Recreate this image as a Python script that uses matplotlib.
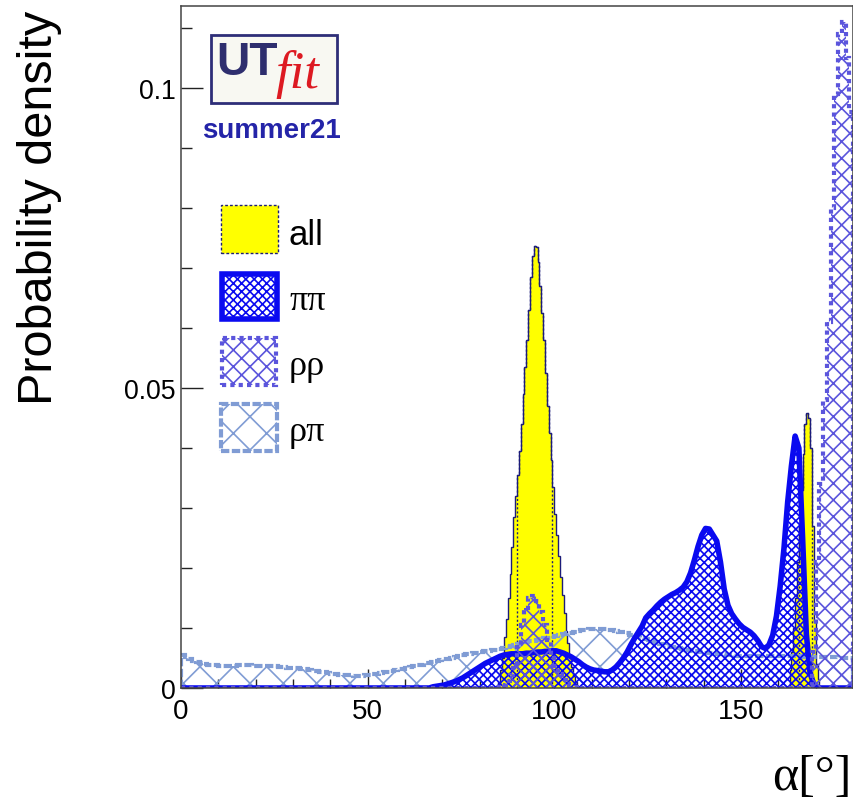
import numpy as np
import matplotlib
matplotlib.use('Agg')
import matplotlib.pyplot as plt
from matplotlib.patches import Rectangle
from matplotlib.ticker import MultipleLocator

plt.rcParams['hatch.linewidth'] = 0.6
plt.rcParams['font.family'] = ['Liberation Sans', 'DejaVu Sans']

W, H, DPI = 854, 804, 200

# ---------------- data ----------------
alpha_start = 0.0
bin_width = 1.0

pipi = [
    0, 0, 0, 0, 0, 0, 0, 0, 0, 0,
    0, 0, 0, 0, 0, 0, 0, 0, 0, 0,
    0, 0, 0, 0, 0, 0, 0, 0, 0, 0,
    0, 0, 0, 0, 0, 0, 0, 0, 0, 0,
    0, 0, 0, 0, 0, 0, 0, 0, 0, 0,
    0, 0, 0, 0, 0, 0, 0, 0, 0, 0,
    0, 0, 0, 0, 0, 0, 0, 0.0002, 0.0003, 0.0004,
    0.0005, 0.0007, 0.0009, 0.0011, 0.0014, 0.0017, 0.0021, 0.0025, 0.0029, 0.0033,
    0.0037, 0.0041, 0.0044, 0.0047, 0.0050, 0.0053, 0.0055, 0.0056, 0.0057, 0.0057,
    0.0057, 0.0057, 0.0058, 0.0058, 0.0059, 0.0060, 0.0060, 0.0061, 0.0061, 0.0062,
    0.0062, 0.0060, 0.0058, 0.0055, 0.0052, 0.0048, 0.0044, 0.0039, 0.0035, 0.0032,
    0.0030, 0.0029, 0.0028, 0.0027, 0.0027, 0.0030, 0.0035, 0.0042, 0.0050, 0.0060,
    0.0072, 0.0083, 0.0093, 0.0103, 0.0117, 0.0124, 0.0130, 0.0137, 0.0143, 0.0148,
    0.0152, 0.0156, 0.0159, 0.0163, 0.0168, 0.0177, 0.0192, 0.0213, 0.0236, 0.0255,
    0.0266, 0.0265, 0.0255, 0.0245, 0.0210, 0.0165, 0.0138, 0.0124, 0.0115, 0.0107,
    0.0101, 0.0097, 0.0093, 0.0087, 0.0079, 0.0069, 0.0066, 0.0072, 0.0088, 0.0120,
    0.0170, 0.0232, 0.0310, 0.0370, 0.0420, 0.0400, 0.0250, 0.0090, 0.0025, 0.0006,
    0, 0, 0, 0, 0, 0, 0, 0, 0, 0,
]

rhorho = [
    0, 0, 0, 0, 0, 0, 0, 0, 0, 0,
    0, 0, 0, 0, 0, 0, 0, 0, 0, 0,
    0, 0, 0, 0, 0, 0, 0, 0, 0, 0,
    0, 0, 0, 0, 0, 0, 0, 0, 0, 0,
    0, 0, 0, 0, 0, 0, 0, 0, 0, 0,
    0, 0, 0, 0, 0, 0, 0, 0, 0, 0,
    0, 0, 0, 0, 0, 0, 0, 0, 0, 0,
    0, 0, 0, 0, 0, 0, 0, 0, 0, 0,
    0, 0, 0, 0, 0.0001, 0.0002, 0.0005, 0.0011, 0.0022, 0.0040,
    0.0068, 0.0105, 0.0133, 0.0150, 0.0153, 0.0145, 0.0126, 0.0105, 0.0080, 0.0055,
    0.0037, 0.0024, 0.0014, 0.0007, 0.0003, 0.0001, 0, 0, 0, 0,
    0, 0, 0, 0, 0, 0, 0, 0, 0, 0,
    0, 0, 0, 0, 0, 0, 0, 0, 0, 0,
    0, 0, 0, 0, 0, 0, 0, 0, 0, 0,
    0, 0, 0, 0, 0, 0, 0, 0, 0, 0,
    0, 0, 0, 0, 0, 0, 0, 0, 0, 0,
    0, 0, 0, 0, 0, 0, 0, 0, 0.0005, 0.0060,
    0.0210, 0.0340, 0.0480, 0.0610, 0.0800, 0.0990, 0.1090, 0.1110, 0.1050, 0.0960,
]

rhopi = [
    0.0055, 0.0051, 0.0048, 0.0045, 0.0043, 0.0041, 0.0040, 0.0039, 0.0038, 0.0038,
    0.0037, 0.0037, 0.0037, 0.0037, 0.0037, 0.0038, 0.0038, 0.0038, 0.0038, 0.0037,
    0.0037, 0.0037, 0.0037, 0.0036, 0.0036, 0.0036, 0.0035, 0.0035, 0.0034, 0.0034,
    0.0033, 0.0033, 0.0032, 0.0031, 0.0030, 0.0029, 0.0028, 0.0027, 0.0026, 0.0025,
    0.0024, 0.0023, 0.0022, 0.0022, 0.0021, 0.0021, 0.0020, 0.0020, 0.0020, 0.0021,
    0.0022, 0.0023, 0.0024, 0.0025, 0.0026, 0.0027, 0.0028, 0.0030, 0.0031, 0.0032,
    0.0034, 0.0035, 0.0036, 0.0038, 0.0039, 0.0041, 0.0042, 0.0044, 0.0045, 0.0047,
    0.0048, 0.0049, 0.0050, 0.0052, 0.0053, 0.0055, 0.0056, 0.0057, 0.0058, 0.0059,
    0.0060, 0.0061, 0.0062, 0.0063, 0.0064, 0.0065, 0.0066, 0.0068, 0.0070, 0.0072,
    0.0074, 0.0076, 0.0077, 0.0078, 0.0079, 0.0080, 0.0082, 0.0083, 0.0084, 0.0085,
    0.0087, 0.0088, 0.0090, 0.0091, 0.0092, 0.0094, 0.0095, 0.0096, 0.0097, 0.0098,
    0.0098, 0.0099, 0.0098, 0.0098, 0.0097, 0.0096, 0.0095, 0.0094, 0.0093, 0.0091,
    0.0089, 0.0088, 0.0086, 0.0084, 0.0082, 0.0080, 0.0078, 0.0076, 0.0074, 0.0072,
    0.0070, 0.0069, 0.0067, 0.0066, 0.0065, 0.0064, 0.0063, 0.0062, 0.0061, 0.0060,
    0.0059, 0.0058, 0.0058, 0.0057, 0.0057, 0.0056, 0.0055, 0.0055, 0.0054, 0.0054,
    0.0054, 0.0054, 0.0054, 0.0054, 0.0054, 0.0054, 0.0054, 0.0054, 0.0054, 0.0054,
    0.0054, 0.0053, 0.0053, 0.0053, 0.0053, 0.0053, 0.0052, 0.0052, 0.0052, 0.0052,
    0.0052, 0.0051, 0.0051, 0.0051, 0.0051, 0.0051, 0.0050, 0.0050, 0.0050, 0.0050,
]

all_bin_width = 0.5
all_lo_start = 85.0
all_lo = [
    0.0010, 0.0030, 0.0050, 0.0085, 0.0115, 0.0150, 0.0190, 0.0235, 0.0285, 0.0320,
    0.0355, 0.0395, 0.0440, 0.0490, 0.0535, 0.0580, 0.0630, 0.0685, 0.0720, 0.0737,
    0.0735, 0.0710, 0.0670, 0.0625, 0.0580, 0.0525, 0.0470, 0.0425, 0.0380, 0.0335,
    0.0290, 0.0255, 0.0220, 0.0185, 0.0155, 0.0125, 0.0095, 0.0075, 0.0055, 0.0035,
    0.0020, 0.0010,
]
all_hi_start = 163.0
all_hi = [
    0.0030, 0.0060, 0.0100, 0.0150, 0.0210, 0.0270, 0.0330, 0.0390, 0.0440, 0.0458,
    0.0450, 0.0400, 0.0270, 0.0110, 0.0040, 0.0015,
]
all_68_intervals = [(90.0, 99.5), (165.5, 169.0)]

labels = ['all', 'ππ', 'ρρ', 'ρπ']
x_ticks = [0, 50, 100, 150]
x_tick_labels = ['0', '50', '100', '150']
y_ticks = [0, 0.05, 0.1]
y_tick_labels = ['0', '0.05', '0.1']
x_range = (0, 180)
y_range = (0, 0.1137)

# ---------------- style ----------------
YELLOW = '#ffff00'
NAVY = '#1c1c7a'
C_PIPI = '#0a0af0'
C_RHORHO = '#5b55dc'
C_RHOPI = '#809cd4'
H_PIPI = 'xxxxxxxx'
H_RHORHO = 'xxxx'
H_RHOPI = 'xx'
LS_RHOPI = (0, (2.0, 0.6))
LW_RHOPI = 1.5

fig = plt.figure(figsize=(W / DPI, H / DPI), dpi=DPI)
ax = fig.add_axes([181 / W, 1 - 689 / H, (853 - 181) / W, (689 - 7) / H])


def edges_for(start, width, n):
    return start + width * np.arange(n + 1)


# "all" (yellow), two segments
for vals, start in [(all_lo, all_lo_start), (all_hi, all_hi_start)]:
    v = np.asarray(vals)
    e = edges_for(start, all_bin_width, len(v))
    ax.stairs(v, e, fill=True, facecolor=YELLOW, edgecolor=NAVY,
              linewidth=0.5, zorder=2)
    for lo, hi in all_68_intervals:
        m = (e[:-1] >= lo - 1e-9) & (e[1:] <= hi + 1e-9)
        if m.any():
            idx = np.where(m)[0]
            ax.stairs(v[idx[0]:idx[-1] + 1], e[idx[0]:idx[-1] + 2], fill=False,
                      baseline=0, edgecolor=NAVY, linewidth=0.5,
                      linestyle=(0, (1.5, 1.5)), zorder=2.1)

# rho pi
e1 = edges_for(alpha_start, bin_width, len(rhopi))
ax.stairs(np.asarray(rhopi), e1, fill=True, facecolor='none', edgecolor=C_RHOPI,
          hatch=H_RHOPI, linewidth=LW_RHOPI, linestyle=LS_RHOPI, zorder=3)

# pi pi : smooth outline through bin centres, hatched area below
pp = np.asarray(pipi)
e1 = edges_for(alpha_start, bin_width, len(pp))
centres = 0.5 * (e1[:-1] + e1[1:])
ax.fill_between(centres, 0, pp, facecolor='none', edgecolor=C_PIPI,
                hatch=H_PIPI, linewidth=0, zorder=4)
ax.plot(centres, pp, color=C_PIPI, linewidth=2.0, solid_joinstyle='round',
        zorder=4.1)

# rho rho
e1 = edges_for(alpha_start, bin_width, len(rhorho))
ax.stairs(np.asarray(rhorho), e1, fill=True, facecolor='none', edgecolor=C_RHORHO,
          hatch=H_RHORHO, linewidth=1.5, linestyle=(0, (1, 1)), zorder=5)

ax.set_xlim(*x_range)
ax.set_ylim(*y_range)
ax.set_xticks(x_ticks)
ax.set_xticklabels(x_tick_labels)
ax.set_yticks(y_ticks)
ax.set_yticklabels(y_tick_labels)
ax.xaxis.set_minor_locator(MultipleLocator(10))
ax.yaxis.set_minor_locator(MultipleLocator(0.01))
ax.tick_params(direction='in', which='both', top=False, right=False,
               color='#222222', labelcolor='black')
ax.tick_params(axis='x', which='major', length=6.8, width=0.5, pad=3.5, labelsize=10)
ax.tick_params(axis='x', which='minor', length=3.2, width=0.5)
ax.tick_params(axis='y', which='major', length=7.9, width=0.5, pad=1.8, labelsize=9.6)
ax.tick_params(axis='y', which='minor', length=4.0, width=0.5)
for s in ax.spines.values():
    s.set_color('#444444')
    s.set_linewidth(0.55)
    s.set_zorder(10)


def fx(x):
    return x / W


def fy(y):
    return 1 - y / H


# axis titles
fig.text(fx(40), fy(208), 'Probability density', rotation=90, ha='center',
         va='center', fontsize=17.5, color='black')
fig.text(fx(852), fy(801), 'α[°]', ha='right', va='bottom', fontsize=18,
         family=['Liberation Serif', 'DejaVu Serif'], color='black')

# logo
fig.add_artist(Rectangle((fx(211), fy(104)), (337 - 211) / W, (104 - 36) / H,
                         transform=fig.transFigure, facecolor='#f8f8f2',
                         edgecolor='#2e2e78', linewidth=1.0, zorder=20))
fig.text(fx(216), fy(75), 'UT', ha='left', va='baseline', fontsize=16.6,
         fontweight='bold', color='#2e2e6e', zorder=21)
fig.text(fx(275), fy(88), 'fit', ha='left', va='baseline', fontsize=19,
         style='italic', family=['Liberation Serif', 'DejaVu Serif'],
         color='#dd1a22', zorder=21)
fig.text(fx(202), fy(138), 'summer21', ha='left', va='baseline', fontsize=10,
         fontweight='bold', color='#2424a8', zorder=21)

# legend (manual)
leg_specs = [
    dict(rect=(221, 206, 278, 254), fc=YELLOW, ec=NAVY, lw=0.5,
         ls=(0, (2, 1.5)), hatch=None, base=245),
    dict(rect=(222.5, 274.5, 276.5, 319.5), fc='none', ec=C_PIPI, lw=2.0,
         ls='-', hatch=H_PIPI, base=310),
    dict(rect=(222, 339, 276, 386), fc='none', ec=C_RHORHO, lw=1.5,
         ls=(0, (1, 1)), hatch=H_RHORHO, base=375),
    dict(rect=(221.5, 404.5, 276.5, 451.5), fc='none', ec=C_RHOPI, lw=LW_RHOPI,
         ls=LS_RHOPI, hatch=H_RHOPI, base=441),
]
for lab, sp in zip(labels, leg_specs):
    x0, y0, x1, y1 = sp['rect']
    fig.add_artist(Rectangle((fx(x0), fy(y1)), (x1 - x0) / W, (y1 - y0) / H,
                             transform=fig.transFigure, facecolor=sp['fc'],
                             edgecolor=sp['ec'], linewidth=sp['lw'],
                             linestyle=sp['ls'], hatch=sp['hatch'], zorder=20))
    if lab == 'all':
        fig.text(fx(289), fy(sp['base']), lab, ha='left', va='baseline',
                 fontsize=12.5, color='black')
    else:
        fig.text(fx(289), fy(sp['base']), lab, ha='left', va='baseline',
                 fontsize=13, family=['Liberation Serif', 'DejaVu Serif'],
                 color='black')

fig.savefig('out.png', dpi=DPI)
